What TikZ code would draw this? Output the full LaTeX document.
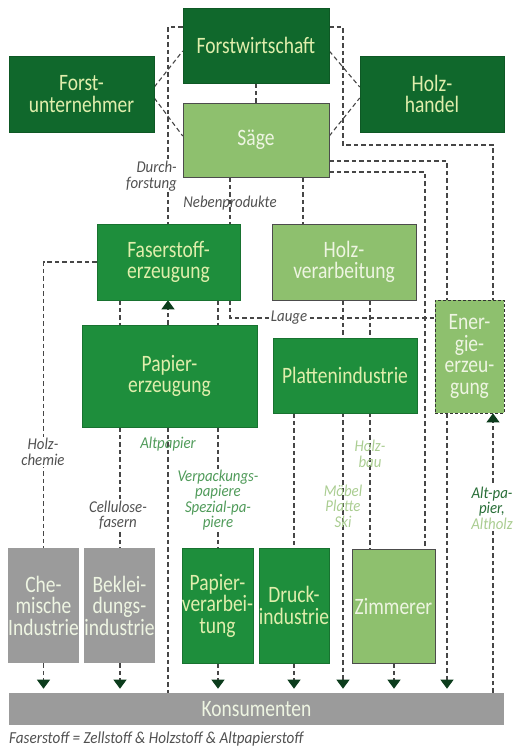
\documentclass[tikz,border=0pt]{standalone}
\usepackage{fontspec}
\setmainfont{Carlito}
\newfontfamily\boxfont{Carlito}[FakeStretch=0.83]
\newfontfamily\lblfont{Carlito}[FakeStretch=0.9]
\usetikzlibrary{arrows.meta}
\pgfdeclarelayer{bg}
\pgfsetlayers{bg,main}
\definecolor{cdark}{RGB}{16,104,44}
\definecolor{cmid}{RGB}{30,142,60}
\definecolor{clight}{RGB}{142,192,110}
\definecolor{cgray}{RGB}{155,155,155}
\definecolor{ctxtd}{RGB}{224,238,172}
\definecolor{ctxtl}{RGB}{238,245,226}
\definecolor{cline}{RGB}{70,70,70}
\definecolor{carrow}{RGB}{12,60,28}
\definecolor{lblgray}{RGB}{80,80,80}
\definecolor{lblgreen}{RGB}{80,155,90}
\definecolor{lbllight}{RGB}{170,205,145}
\definecolor{lbldark}{RGB}{40,110,55}
\begin{document}
\begin{tikzpicture}[x=1pt,y=-1pt,
  bx/.style={rectangle, inner sep=0pt, align=center, font=\boxfont\fontsize{23.5}{21.5}\selectfont, line width=0.6pt},
  dk/.style={bx, fill=cdark, draw=cdark!85!black, text=ctxtd},
  md/.style={bx, fill=cmid, draw=cmid!80!black, text=ctxtd},
  lt/.style={bx, fill=clight, draw=black!70, text=ctxtl},
  en/.style={bx, fill=clight, draw=black!80, dash pattern=on 3pt off 2pt, line width=0.8pt, text=ctxtl},
  gr/.style={bx, fill=cgray, text=ctxtl},
  dl/.style={draw=cline, line width=1.1pt, dash pattern=on 4.5pt off 3pt},
  ar/.style={dl, -{Triangle[width=13pt,length=9pt,color=carrow]}},
  lbl/.style={font=\lblfont\itshape\fontsize{16.5}{15.5}\selectfont, align=center, inner sep=1pt},
  lblw/.style={lbl, fill=white},
  caption/.style={font=\lblfont\itshape\fontsize{16.8}{18}\selectfont, text=lblgray, inner sep=0pt}
]
\useasboundingbox (0,0) rectangle (514,755);

% boxes
\node[dk, minimum width=146pt, minimum height=75pt] (fw) at (256,45.5) {Forstwirtschaft};
\node[dk, minimum width=145pt, minimum height=76pt] (fu) at (81.5,94) {Forst-\\unternehmer};
\node[dk, minimum width=144pt, minimum height=76pt] (hh) at (432,94) {Holz-\\handel};
\node[lt, minimum width=146pt, minimum height=74pt] (saege) at (256,140) {Säge};
\node[md, minimum width=143pt, minimum height=76pt] (faser) at (168.5,262) {Faserstoff-\\erzeugung};
\node[lt, minimum width=144pt, minimum height=76pt] (holzv) at (344,262) {Holz-\\verarbeitung};
\node[md, minimum width=175pt, minimum height=102pt] (papier) at (169.5,376) {Papier-\\erzeugung};
\node[md, minimum width=144pt, minimum height=75pt] (platten) at (345,375.5) {Plattenindustrie};
\node[en, minimum width=69pt, minimum height=113pt] (energie) at (469.5,356.5) {Ener-\\gie-\\erzeu-\\gung};
\node[gr, minimum width=69pt, minimum height=115pt] (chem) at (43.5,605.5) {Che-\\mische\\Industrie};
\node[gr, minimum width=69pt, minimum height=115pt] (bekl) at (119.5,605.5) {Beklei-\\dungs-\\industrie};
\node[md, minimum width=69pt, minimum height=115pt] (pverarb) at (217.5,605.5) {Papier-\\verarbei-\\tung};
\node[md, minimum width=68pt, minimum height=115pt] (druck) at (294,605.5) {Druck-\\industrie};
\node[lt, minimum width=83pt, minimum height=114pt] (zimmer) at (393.5,606) {Zimmerer};
\node[gr, minimum width=495pt, minimum height=32pt] (kons) at (256.5,709) {Konsumenten};
\node[caption, anchor=base west] (cap) at (9,743) {Faserstoff = Zellstoff \& Holzstoff \& Altpapierstoff};

% helper coordinates
\coordinate (X120) at (120,0);
\coordinate (X168) at (168,0);
\coordinate (X218) at (218,0);
\coordinate (X230) at (230,0);
\coordinate (X294) at (294,0);
\coordinate (X303) at (303,0);
\coordinate (X343) at (343,0);
\coordinate (X370) at (370,0);
\coordinate (X394) at (394,0);
\coordinate (X425) at (425,0);
\coordinate (X447) at (447,0);
\coordinate (X493) at (493,0);
\coordinate (Y27) at (0,27);
\coordinate (Y51) at (0,51);
\coordinate (Y87) at (0,87);
\coordinate (Y98) at (0,98);
\coordinate (Y136) at (0,136);
\coordinate (Y161) at (0,161);
\coordinate (Y172) at (0,172);
\coordinate (Y318) at (0,318);
\coordinate (K145) at (343,145);

\begin{pgfonlayer}{bg}
\draw[dl] (fw) -- (saege);
\draw[dl] (fw.west |- Y27) -| (faser.north -| X168);
\draw[dl] (fu.east |- Y87) -- (fw.west |- Y51);
\draw[dl] (fu.east |- Y98) -- (saege.west |- Y136);
\draw[dl] (fw.east |- Y51) -- (hh.west |- Y87);
\draw[dl] (saege.east |- Y136) -- (hh.west |- Y98);
\draw[dl] (fw.east |- Y27) -| (K145) -| (energie.north -| X493);
\draw[dl] (saege.east |- Y161) -| (energie.north -| X447);
\draw[dl] (saege.east |- Y172) -| (zimmer.north -| X425);
\draw[dl] (saege.south -| X230) -- (faser.north -| X230);
\draw[dl] (saege.south -| X303) -- (holzv.north -| X303);
\draw[dl] (faser.west) -| (chem.north);
\draw[dl] (faser.south -| X120) -- (papier.north -| X120);
\draw[dl] (faser.south -| X218) -- (papier.north -| X218);
\draw[dl] (faser.south -| X230) |- (energie.west |- Y318);
\draw[dl] (papier.south -| X120) -- (bekl.north -| X120);
\draw[dl] (papier.south -| X168) -- (kons.north -| X168);
\draw[dl] (papier.south -| X218) -- (pverarb.north -| X218);
\draw[dl] (platten.south -| X294) -- (druck.north -| X294);
\draw[dl] (holzv.south -| X370) -- (zimmer.north -| X370);
\draw[ar] (papier.north -| X168) -- (faser.south -| X168);
\draw[ar, shorten >=4pt] (holzv.south -| X343) -- (kons.north -| X343);
\draw[ar, shorten >=4pt] (chem.south) -- (kons.north -| chem.south);
\draw[ar, shorten >=4pt] (bekl.south -| X120) -- (kons.north -| X120);
\draw[ar, shorten >=4pt] (pverarb.south -| X218) -- (kons.north -| X218);
\draw[ar, shorten >=4pt] (druck.south -| X294) -- (kons.north -| X294);
\draw[ar, shorten >=4pt] (zimmer.south -| X394) -- (kons.north -| X394);
\draw[ar, shorten >=4pt] (energie.south -| X447) -- (kons.north -| X447);
\draw[ar] (kons.north -| X493) -- (energie.south -| X493);
\end{pgfonlayer}

% labels
\node[lblw, text=lblgray, align=right, anchor=east] (l1) at (178,176) {Durch-\\forstung};
\node[lbl, text=lblgray] (l2) at (230,203) {Nebenprodukte};
\node[lblw, text=lblgray] (l3) at (289,318) {Lauge};
\node[lblw, text=lblgray] (l4) at (43,452) {Holz-\\chemie};
\node[lblw, text=lblgray] (l5) at (118,515) {Cellulose-\\fasern};
\node[lbl, text=lblgreen] (l6) at (168,444) {Altpapier};
\node[lblw, text=lblgreen] (l7) at (218,500) {Verpackungs-\\papiere\\Spezial-pa-\\piere};
\node[lbl, text=lbllight] (l8) at (370,454) {Holz-\\bau};
\node[lbl, text=lbllight] (l9) at (343,506) {Möbel\\Platte\\Ski};
\node[lblw, text=lbldark] (l10) at (492,508) {Alt-pa-\\pier,\\\textcolor{lbllight}{Altholz}};
\end{tikzpicture}
\end{document}
